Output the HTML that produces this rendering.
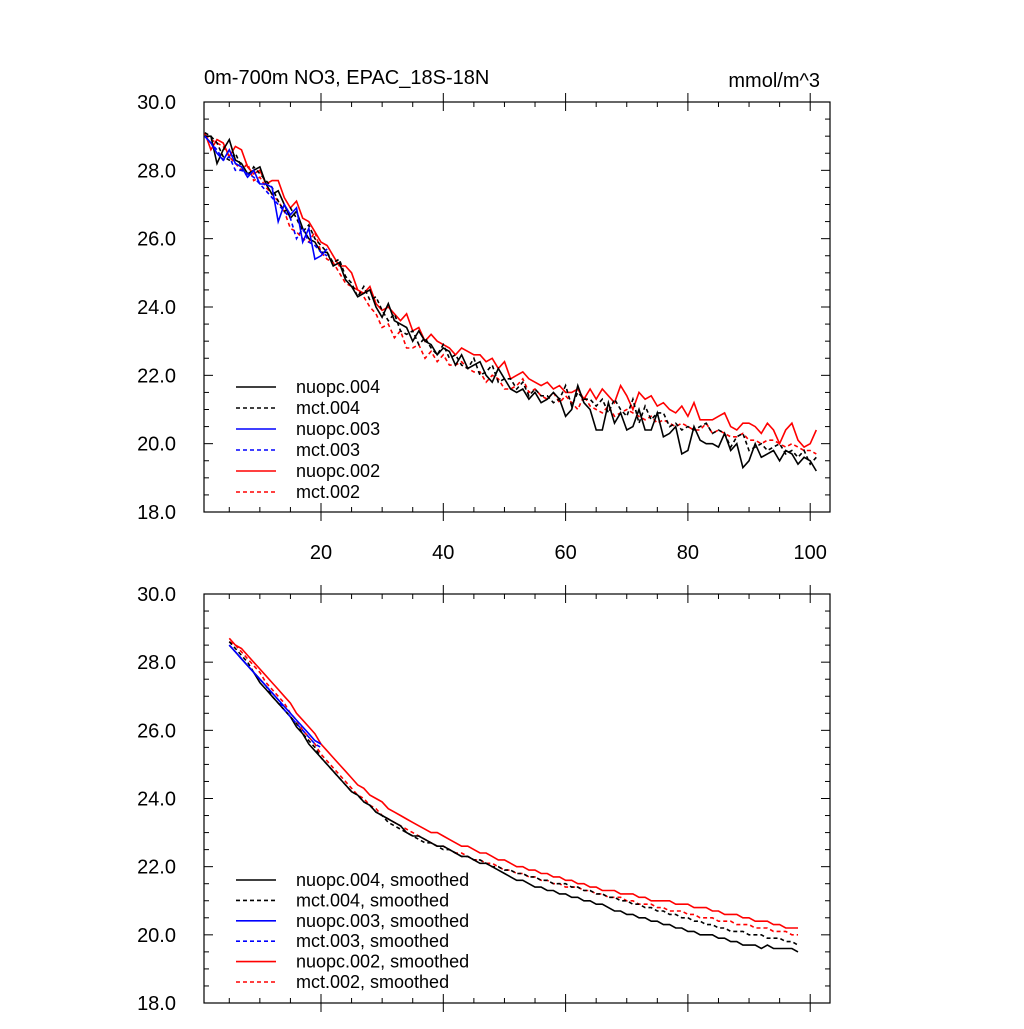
<!DOCTYPE html>
<html><head><meta charset="utf-8"><style>
body{margin:0;background:#fff;}
svg text{font-family:"Liberation Sans",sans-serif;fill:#000;}
</style></head><body>
<svg id="chart" width="1024" height="1024" xmlns="http://www.w3.org/2000/svg">
<text x="204" y="84" font-size="20">0m-700m NO3, EPAC_18S-18N</text>
<text x="820" y="87" font-size="20" text-anchor="end">mmol/m^3</text>
</svg>
<script>
const nuopc004=[29.0,29.0,28.2,28.6,28.9,28.3,28.2,27.9,28.0,28.1,27.6,27.3,27.4,27.0,26.6,26.8,26.3,26.0,25.9,25.6,25.6,25.2,25.3,24.8,24.6,24.3,24.4,24.5,24.0,23.7,24.1,23.6,23.5,23.4,23.0,23.3,23.0,22.9,22.6,22.8,22.7,22.3,22.6,22.2,22.3,22.4,22.0,21.8,22.2,21.9,21.6,21.5,21.6,21.3,21.5,21.2,21.3,21.5,21.3,20.8,21.0,21.7,21.2,21.0,20.4,20.4,21.2,20.6,20.9,20.4,20.5,21.0,20.4,20.4,20.9,20.2,20.3,20.5,19.7,19.8,20.5,20.1,20.0,20.0,19.9,20.3,19.8,20.0,19.3,19.5,20.0,19.6,19.7,19.8,19.5,19.8,19.7,19.4,19.6,19.5,19.2];
const mct004=[29.1,29.0,28.8,28.4,28.3,28.5,28.1,27.8,28.1,27.9,27.7,27.5,27.1,26.8,26.9,26.6,26.2,26.4,26.0,25.8,25.6,25.3,25.4,24.9,24.7,24.3,24.6,24.2,24.3,23.9,23.6,23.8,23.3,23.2,23.3,22.9,23.1,22.8,22.6,22.9,22.5,22.6,22.3,22.2,22.5,22.0,22.1,22.3,21.8,21.9,21.9,21.6,21.8,21.4,21.6,21.4,21.4,21.2,21.3,21.7,21.1,21.5,21.3,21.3,21.1,21.3,20.9,21.3,21.0,20.8,21.3,20.6,21.1,20.7,20.9,20.9,20.5,20.6,20.4,20.5,20.4,20.5,20.6,20.3,20.4,20.3,19.9,20.2,20.3,19.8,19.9,20.0,19.8,19.9,20.0,19.7,19.8,19.6,19.8,19.4,19.6];
const nuopc003=[29.0,28.8,28.5,28.3,28.6,28.2,28.1,27.8,28.0,27.6,27.6,27.5,26.5,27.0,26.7,26.9,25.9,26.3,25.4,25.5,25.7];
const mct003=[29.0,28.8,28.6,28.3,28.4,28.0,28.0,27.9,27.8,27.6,27.4,27.2,27.0,26.8,26.6,26.0,26.3,25.9,25.8,25.6,25.5];
const nuopc002=[29.1,28.6,28.9,28.8,28.4,28.7,28.6,28.1,27.9,28.0,27.6,27.7,27.7,27.2,26.9,27.1,26.6,26.5,26.2,25.9,25.8,25.5,25.2,25.2,25.0,24.5,24.4,24.6,24.1,23.9,24.0,23.8,23.6,23.8,23.3,23.4,23.0,23.2,23.0,22.9,22.8,22.6,22.8,22.7,22.6,22.6,22.4,22.5,22.2,22.4,21.9,22.0,22.1,21.9,21.8,21.7,21.8,21.6,21.7,21.5,21.5,21.6,21.3,21.6,21.3,21.6,21.4,21.2,21.7,21.4,21.0,21.5,21.3,21.4,21.1,21.2,21.0,20.9,21.1,20.8,21.2,20.7,20.7,20.7,20.8,20.9,20.5,20.4,20.6,20.6,20.5,20.3,20.6,20.4,20.0,20.4,20.6,20.1,19.9,20.0,20.4];
const mct002=[29.0,28.9,28.8,28.7,28.4,28.2,28.0,28.2,27.7,27.8,27.5,27.3,27.1,26.8,26.3,26.2,26.0,25.9,26.2,25.6,25.4,25.3,25.0,24.7,24.6,24.5,24.3,24.0,23.8,23.4,23.5,23.1,23.3,22.8,22.8,22.9,22.5,22.7,22.4,22.6,22.3,22.3,22.4,22.2,22.1,22.1,21.8,22.0,21.9,21.6,21.6,21.7,21.9,21.5,21.6,21.4,21.3,21.5,21.2,21.4,21.2,21.0,21.4,21.1,21.0,20.9,21.1,20.8,20.9,21.0,20.9,20.8,20.7,20.8,20.6,20.7,20.6,20.5,20.6,20.5,20.4,20.4,20.6,20.3,20.4,20.3,20.2,20.2,20.3,20.1,20.1,20.0,20.1,20.1,20.0,19.9,20.0,19.9,19.8,19.8,19.7];
// smoothed series start at year 5
const nuopc004s=[28.5,28.3,28.1,27.9,27.7,27.4,27.2,27.0,26.8,26.6,26.4,26.1,25.9,25.6,25.4,25.2,25.0,24.8,24.6,24.4,24.2,24.1,23.9,23.8,23.6,23.5,23.4,23.3,23.2,23.0,22.9,22.9,22.8,22.7,22.6,22.6,22.5,22.4,22.3,22.3,22.2,22.1,22.1,22.0,21.9,21.8,21.7,21.6,21.6,21.5,21.4,21.4,21.3,21.3,21.2,21.2,21.1,21.1,21.0,21.0,20.9,20.9,20.8,20.7,20.7,20.6,20.6,20.5,20.5,20.4,20.4,20.3,20.3,20.2,20.2,20.1,20.1,20.0,20.0,20.0,19.9,19.9,19.8,19.8,19.7,19.7,19.7,19.6,19.7,19.6,19.6,19.6,19.6,19.5];
const mct004s=[28.6,28.4,28.2,28.0,27.7,27.5,27.3,27.0,26.8,26.6,26.4,26.2,25.9,25.7,25.5,25.2,25.0,24.8,24.6,24.4,24.2,24.1,23.9,23.8,23.6,23.5,23.3,23.2,23.1,23.0,22.9,22.8,22.7,22.7,22.6,22.5,22.5,22.4,22.3,22.3,22.2,22.2,22.1,22.0,22.0,21.9,21.9,21.8,21.8,21.7,21.7,21.6,21.6,21.5,21.5,21.5,21.4,21.4,21.3,21.3,21.2,21.2,21.1,21.1,21.0,21.0,20.9,20.9,20.8,20.8,20.7,20.7,20.6,20.6,20.5,20.5,20.4,20.4,20.3,20.3,20.2,20.2,20.1,20.1,20.1,20.0,20.0,20.0,19.9,19.9,19.9,19.8,19.8,19.7];
const nuopc003s=[28.5,28.3,28.1,27.9,27.7,27.5,27.3,27.1,26.9,26.7,26.5,26.3,26.1,25.9,25.7,25.6];
const mct003s=[28.5,28.3,28.1,27.9,27.7,27.5,27.3,27.1,26.9,26.6,26.4,26.2,26.0,25.8,25.6,25.5];
const nuopc002s=[28.7,28.5,28.4,28.2,28.0,27.8,27.6,27.4,27.2,27.0,26.8,26.5,26.3,26.1,25.9,25.6,25.4,25.2,25.0,24.8,24.6,24.4,24.3,24.1,24.0,23.9,23.7,23.6,23.5,23.4,23.3,23.2,23.1,23.0,23.0,22.9,22.8,22.7,22.6,22.6,22.5,22.4,22.4,22.3,22.2,22.2,22.1,22.0,22.0,21.9,21.9,21.8,21.8,21.7,21.7,21.6,21.6,21.5,21.5,21.4,21.4,21.3,21.3,21.3,21.2,21.2,21.2,21.1,21.1,21.0,21.0,21.0,21.0,20.9,20.9,20.9,20.8,20.8,20.8,20.7,20.7,20.6,20.6,20.6,20.5,20.5,20.4,20.4,20.4,20.3,20.3,20.2,20.2,20.2];
const mct002s=[28.6,28.5,28.3,28.1,27.9,27.7,27.4,27.2,27.0,26.8,26.5,26.3,26.0,25.8,25.6,25.3,25.1,24.9,24.7,24.5,24.3,24.1,24.0,23.8,23.7,23.5,23.4,23.3,23.2,23.1,23.0,22.9,22.8,22.7,22.6,22.6,22.5,22.4,22.4,22.3,22.2,22.2,22.1,22.1,22.0,21.9,21.9,21.8,21.8,21.7,21.7,21.6,21.6,21.5,21.5,21.4,21.4,21.4,21.3,21.3,21.2,21.2,21.1,21.1,21.1,21.0,21.0,20.9,20.9,20.9,20.8,20.8,20.7,20.7,20.7,20.6,20.6,20.5,20.5,20.5,20.4,20.4,20.4,20.3,20.3,20.3,20.2,20.2,20.2,20.1,20.1,20.1,20.0,20.0];
const yTicks=[18.0,20.0,22.0,24.0,26.0,28.0,30.0];
const xTicks=[20,40,60,80,100];

const svg=document.getElementById('chart');
const NS='http://www.w3.org/2000/svg';
function mk(tag,attrs,parent){const e=document.createElementNS(NS,tag);for(const k in attrs)e.setAttribute(k,attrs[k]);(parent||svg).appendChild(e);return e;}
const X0=204,X1=830;
function xs(v){return 321+(v-20)*6.115;}
function makeY(top,bot){return v=>top+(30-v)*(bot-top)/12;}
function panel(name,top,bot,showXLabels){
  const ys=makeY(top,bot);
  const g=mk('g',{});
  
  
  const r=mk('rect',{x:X0,y:top,width:X1-X0,height:bot-top,fill:'none',stroke:'#000','stroke-width':1.2},g);
  
  
  for(let v=18;v<=30.001;v+=0.5){
    const major=Math.abs(v-Math.round(v/2)*2)<1e-6;const L=major?9:5;const y=ys(v);
    mk('line',{x1:X0,x2:X0+L,y1:y,y2:y,stroke:'#000'},g);
    mk('line',{x1:X1,x2:X1-L,y1:y,y2:y,stroke:'#000'},g);
  }
  yTicks.forEach(v=>{const t=mk('text',{x:X0-28,y:ys(v)+7,'font-size':20,'text-anchor':'end'},g);t.textContent=v.toFixed(1);
    
    });
  for(let v=5;v<=100;v+=5){const major=v%20===0;const L=major?9:5;const x=xs(v);
    mk('line',{x1:x,x2:x,y1:bot,y2:bot-L,stroke:'#000'},g);
    mk('line',{x1:x,x2:x,y1:top,y2:top+L,stroke:'#000'},g);
    if(major){mk('line',{x1:x,x2:x,y1:bot,y2:bot+9,stroke:'#000'},g);mk('line',{x1:x,x2:x,y1:top,y2:top-9,stroke:'#000'},g);}
  }
  if(showXLabels)xTicks.forEach(v=>{const t=mk('text',{x:xs(v),y:bot+47,'font-size':20,'text-anchor':'middle'},g);t.textContent=v;
    
    });
  return ys;
}
function series(name,data,x0,ys,color,dash){
  const pts=data.map((v,i)=>xs(x0+i).toFixed(1)+','+ys(v).toFixed(1)).join(' ');
  const p=mk('polyline',{points:pts,fill:'none',stroke:color,'stroke-width':1.6,'stroke-dasharray':dash?'4,3':'none'});
  
  
}
function legend(name,items,y0,dy){
  const g=mk('g',{});
  
  
  items.forEach((it,i)=>{const y=y0+i*dy;
    mk('line',{x1:236,x2:276,y1:y,y2:y,stroke:it[1],'stroke-width':1.6,'stroke-dasharray':it[2]?'4,3':'none'},g);
    const t=mk('text',{x:296,y:y+6,'font-size':18},g);t.textContent=it[0];
    
    });
}
const y1=panel('top-panel',102,512,true);
series('line-mct002',mct002,1,y1,'#f00',true);
series('line-nuopc002',nuopc002,1,y1,'#f00',false);
series('line-mct004',mct004,1,y1,'#000',true);
series('line-nuopc004',nuopc004,1,y1,'#000',false);
series('line-mct003',mct003,1,y1,'#00f',true);
series('line-nuopc003',nuopc003,1,y1,'#00f',false);
legend('top-legend',[['nuopc.004','#000',0],['mct.004','#000',1],['nuopc.003','#00f',0],['mct.003','#00f',1],['nuopc.002','#f00',0],['mct.002','#f00',1]],387,21);
const y2=panel('bottom-panel',594,1003,false);
series('line-mct002-smoothed',mct002s,5,y2,'#f00',true);
series('line-nuopc002-smoothed',nuopc002s,5,y2,'#f00',false);
series('line-mct004-smoothed',mct004s,5,y2,'#000',true);
series('line-nuopc004-smoothed',nuopc004s,5,y2,'#000',false);
series('line-mct003-smoothed',mct003s,5,y2,'#00f',true);
series('line-nuopc003-smoothed',nuopc003s,5,y2,'#00f',false);
legend('bottom-legend',[['nuopc.004, smoothed','#000',0],['mct.004, smoothed','#000',1],['nuopc.003, smoothed','#00f',0],['mct.003, smoothed','#00f',1],['nuopc.002, smoothed','#f00',0],['mct.002, smoothed','#f00',1]],880,20.4);
</script>
</body></html>
